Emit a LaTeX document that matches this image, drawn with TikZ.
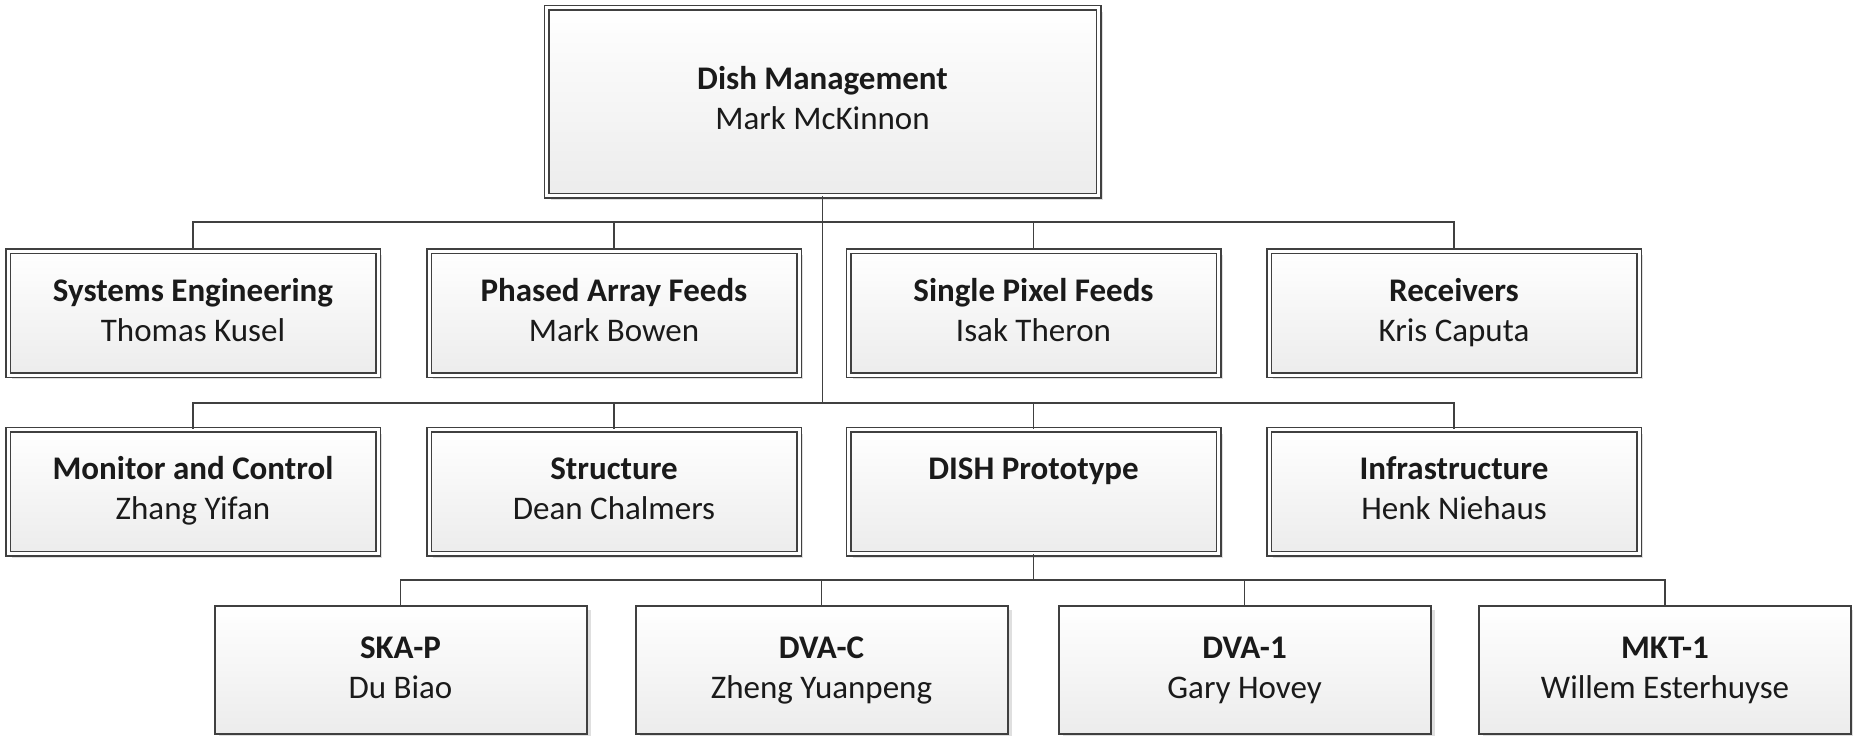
\documentclass[tikz,border=0pt]{standalone}
\usepackage{fontspec}
\setmainfont{Carlito}
\usetikzlibrary{shadows}
\definecolor{edge}{HTML}{404040}
\definecolor{ink}{HTML}{1A1A1A}
\definecolor{boxbot}{HTML}{ECECEC}
\tikzset{
  unit/.style={rectangle, inner sep=0pt, align=center, text=ink,
    font=\fontsize{33}{40}\selectfont,
    top color=white, bottom color=boxbot,
    drop shadow={shadow xshift=4pt, shadow yshift=-4pt, opacity=0.25, fill=gray}},
  dblbox/.style={unit, draw=edge, line width=1.5pt, double=white, double distance=3pt},
  sglbox/.style={unit, draw=edge, line width=2pt},
  headbox/.style={dblbox, minimum width=552pt, minimum height=188pt},
  deptbox/.style={dblbox, minimum width=370pt, minimum height=124pt},
  projbox/.style={sglbox, minimum width=372pt, minimum height=128pt},
  link/.style={draw=edge, line width=1.6pt}
}
\newcommand{\unitlabel}[2]{\strut\textbf{#1}\\\strut#2}
\begin{document}
\begin{tikzpicture}[x=1pt, y=-1pt]
\useasboundingbox (0,0) rectangle (1853,736);

% bus levels
\coordinate (busA) at (0,222);
\coordinate (busB) at (0,403);
\coordinate (busC) at (0,580);

% head of the group
\node[headbox] (dm) at (822.5,101.5) {\unitlabel{Dish Management}{Mark McKinnon}};

% first row of departments
\node[deptbox] (se)  at (193,313)  {\unitlabel{Systems Engineering}{Thomas Kusel}};
\node[deptbox] (paf) at (614,313)  {\unitlabel{Phased Array Feeds}{Mark Bowen}};
\node[deptbox] (spf) at (1033.5,313) {\unitlabel{Single Pixel Feeds}{Isak Theron}};
\node[deptbox] (rx)  at (1454,313) {\unitlabel{Receivers}{Kris Caputa}};

% second row of departments
\node[deptbox] (mc)  at (193,491.5)  {\unitlabel{Monitor and Control}{Zhang Yifan}};
\node[deptbox] (st)  at (614,491.5)  {\unitlabel{Structure}{Dean Chalmers}};
\node[deptbox] (dp)  at (1033.5,491.5) {\unitlabel{DISH Prototype}{}};
\node[deptbox] (inf) at (1454,491.5) {\unitlabel{Infrastructure}{Henk Niehaus}};

% prototype projects
\node[projbox] (skap) at (400.5,670) {\unitlabel{SKA-P}{Du Biao}};
\node[projbox] (dvac) at (821.5,670) {\unitlabel{DVA-C}{Zheng Yuanpeng}};
\node[projbox] (dva1) at (1244.5,670) {\unitlabel{DVA-1}{Gary Hovey}};
\node[projbox] (mkt1) at (1665,670) {\unitlabel{MKT-1}{Willem Esterhuyse}};

% connectors
\foreach \c in {se,paf,spf,rx}
  \draw[link] (dm.south) -- (dm.south |- busA) -| (\c.north);
\foreach \c in {mc,st,dp,inf}
  \draw[link] (dm.south) -- (dm.south |- busB) -| (\c.north);
\foreach \c in {skap,dvac,dva1,mkt1}
  \draw[link] (dp.south) -- (dp.south |- busC) -| (\c.north);
\end{tikzpicture}
\end{document}
